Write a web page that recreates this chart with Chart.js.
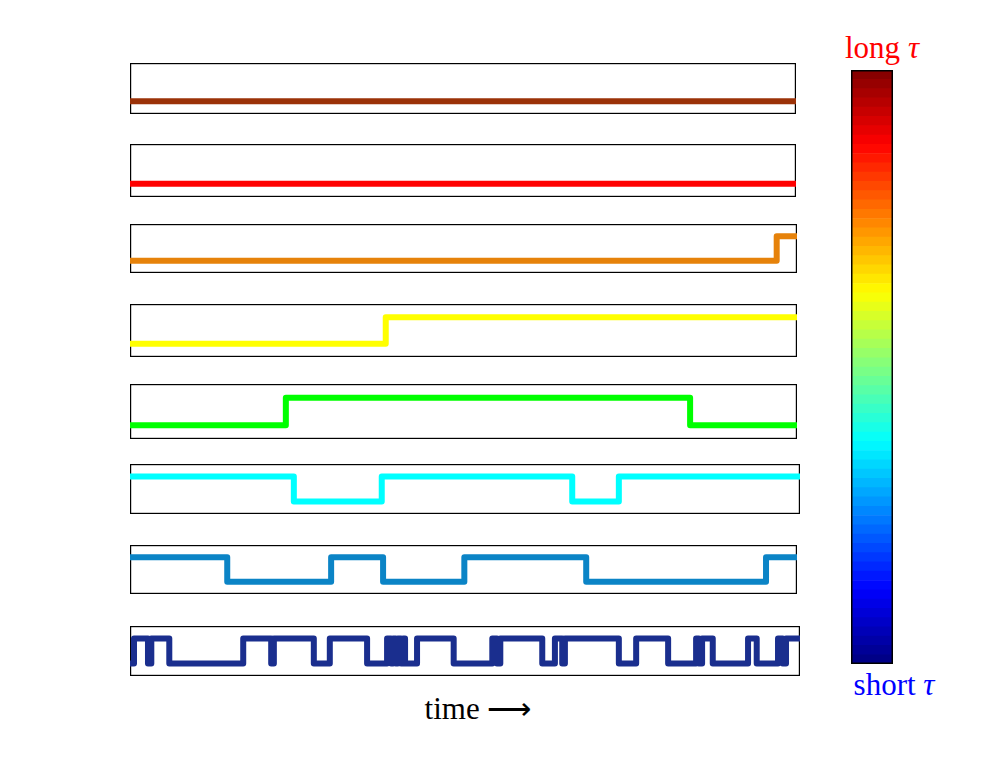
<!DOCTYPE html>
<html>
<head>
<meta charset="utf-8">
<script src="https://cdn.jsdelivr.net/npm/chart.js@4.4.1/dist/chart.umd.min.js"></script>
<style>
  body { margin: 0; background: #fff; }
  #wrap { position: relative; width: 998px; height: 763px; overflow: hidden; }
  canvas { position: absolute; }
  .lbl { position: absolute; width: 200px; text-align: center; font-family: "Liberation Serif", serif; font-size: 31px; line-height: 31px; white-space: nowrap; }
  .lbl i { font-style: italic; }
</style>
</head>
<body>
<div id="wrap">
  <div class="lbl" style="left:782px; top:32px; color:#ff0000;">long <i>τ</i></div>
  <div class="lbl" style="left:794px; top:669px; color:#0000ff;">short <i>τ</i></div>
  <div class="lbl" style="left:378px; top:693px; color:#000;">time ⟶</div>
</div>
<script>
// --- data: each trace is a two-level telegraph signal (0 = low, 1 = high)
// switching times, time runs 0..100 across the panel
const startLevel = [0, 0, 0, 0, 0, 1, 1, 0];
const timeEnd = [100, 100, 100.15, 100.15, 100.15, 100.6, 100.15, 100.6];

const switches1 = [];
const switches2 = [];
const switches3 = [97.1];
const switches4 = [38.4];
const switches5 = [23.4, 84.1];
const switches6 = [24.6, 37.8, 66.4, 73.4];
const switches7 = [14.6, 30.2, 38.0, 50.2, 68.5, 95.5];
const switches8 = [0.6, 2.7, 3.2, 5.9, 17.0, 21.2, 21.6, 27.6, 30.0, 35.6,
  38.6, 39.2, 39.5, 39.9, 40.2, 40.7, 41.0, 41.3, 43.1, 48.6,
  54.4, 55.1, 55.6, 61.9, 63.8, 64.9, 65.3, 73.4, 76.0, 80.8,
  85.0, 85.4, 85.9, 87.5, 92.8, 94.1, 97.3, 98.0, 98.5];

const allSwitches = [switches1, switches2, switches3, switches4, switches5, switches6, switches7, switches8];

// colour bar: number of bands in the jet map
const colorbarBands = 64;

// --- layout / style
const lineColors = ['#9b3208', '#ff0000', '#e6820a', '#ffff00', '#00ff00', '#00ffff', '#0b84c6', '#1a2e8e'];
const panelTops = [63, 144, 224, 304, 384, 464, 545, 626];
const panelBottoms = [114, 197, 273, 357, 439, 514, 594, 676];
const panelRights = [796, 796, 797, 797, 797, 800, 797, 800];
const panelLeft = 130;

const framePlugin = {
  id: 'frame',
  beforeDatasetsDraw(chart) {
    const a = chart.chartArea, ctx = chart.ctx;
    ctx.save();
    ctx.strokeStyle = '#000';
    ctx.lineWidth = 1.2;
    ctx.strokeRect(a.left + 0.6, a.top + 0.6, a.right - a.left - 1.2, a.bottom - a.top - 1.2);
    ctx.restore();
  }
};

function toSteps(start, sw, end) {
  let lvl = start;
  const pts = [{ x: 0, y: lvl }];
  sw.forEach(t => { lvl = 1 - lvl; pts.push({ x: t, y: lvl }); });
  pts.push({ x: end, y: lvl });
  return pts;
}

const wrap = document.getElementById('wrap');

allSwitches.forEach((sw, i) => {
  const cv = document.createElement('canvas');
  const w = panelRights[i] - panelLeft, h = panelBottoms[i] - panelTops[i];
  cv.width = w; cv.height = h;
  cv.style.left = panelLeft + 'px';
  cv.style.top = panelTops[i] + 'px';
  cv.style.width = w + 'px'; cv.style.height = h + 'px';
  wrap.appendChild(cv);

  new Chart(cv, {
    type: 'line',
    data: {
      datasets: [{
        data: toSteps(startLevel[i], sw, timeEnd[i]),
        borderColor: lineColors[i],
        borderWidth: 6,
        stepped: true,
        pointRadius: 0,
        borderCapStyle: 'round',
        borderJoinStyle: 'round',
        fill: false
      }]
    },
    options: {
      responsive: false,
      animation: false,
      events: [],
      layout: { padding: 0 },
      plugins: { legend: { display: false }, tooltip: { enabled: false } },
      scales: {
        x: { type: 'linear', min: 0, max: timeEnd[i], display: false },
        y: { min: -0.5, max: 1.5, display: false }
      }
    },
    plugins: [framePlugin]
  });
});

// --- colour bar (jet), top = long tau, bottom = short tau
function jet(v) {
  const c = x => Math.round(255 * Math.max(0, Math.min(1, x)));
  return `rgb(${c(Math.min(4 * v - 1.5, -4 * v + 4.5))},${c(Math.min(4 * v - 0.5, -4 * v + 3.5))},${c(Math.min(4 * v + 0.5, -4 * v + 2.5))})`;
}
const bandLabels = [];
const bandColors = [];
const bandValues = [];
for (let k = colorbarBands - 1; k >= 0; k--) {
  bandLabels.push(String(k));
  bandColors.push(jet((k + 0.5) / colorbarBands));
  bandValues.push(1);
}

const cb = document.createElement('canvas');
cb.width = 42; cb.height = 594;
cb.style.left = '851px'; cb.style.top = '70px';
cb.style.width = '42px'; cb.style.height = '594px';
wrap.appendChild(cb);

const cbFrame = {
  id: 'cbframe',
  afterDatasetsDraw(chart) {
    const a = chart.chartArea, ctx = chart.ctx;
    ctx.save();
    ctx.strokeStyle = '#000';
    ctx.lineWidth = 1.5;
    ctx.strokeRect(a.left + 0.75, a.top + 0.75, a.right - a.left - 1.5, a.bottom - a.top - 1.5);
    ctx.restore();
  }
};

new Chart(cb, {
  type: 'bar',
  data: {
    labels: bandLabels,
    datasets: [{
      data: bandValues,
      backgroundColor: bandColors,
      borderWidth: 0,
      barPercentage: 1,
      categoryPercentage: 1
    }]
  },
  options: {
    indexAxis: 'y',
    responsive: false,
    animation: false,
    events: [],
    layout: { padding: 0 },
    plugins: { legend: { display: false }, tooltip: { enabled: false } },
    scales: {
      x: { min: 0, max: 1, display: false },
      y: { display: false }
    }
  },
  plugins: [cbFrame]
});
</script>
</body>
</html>
